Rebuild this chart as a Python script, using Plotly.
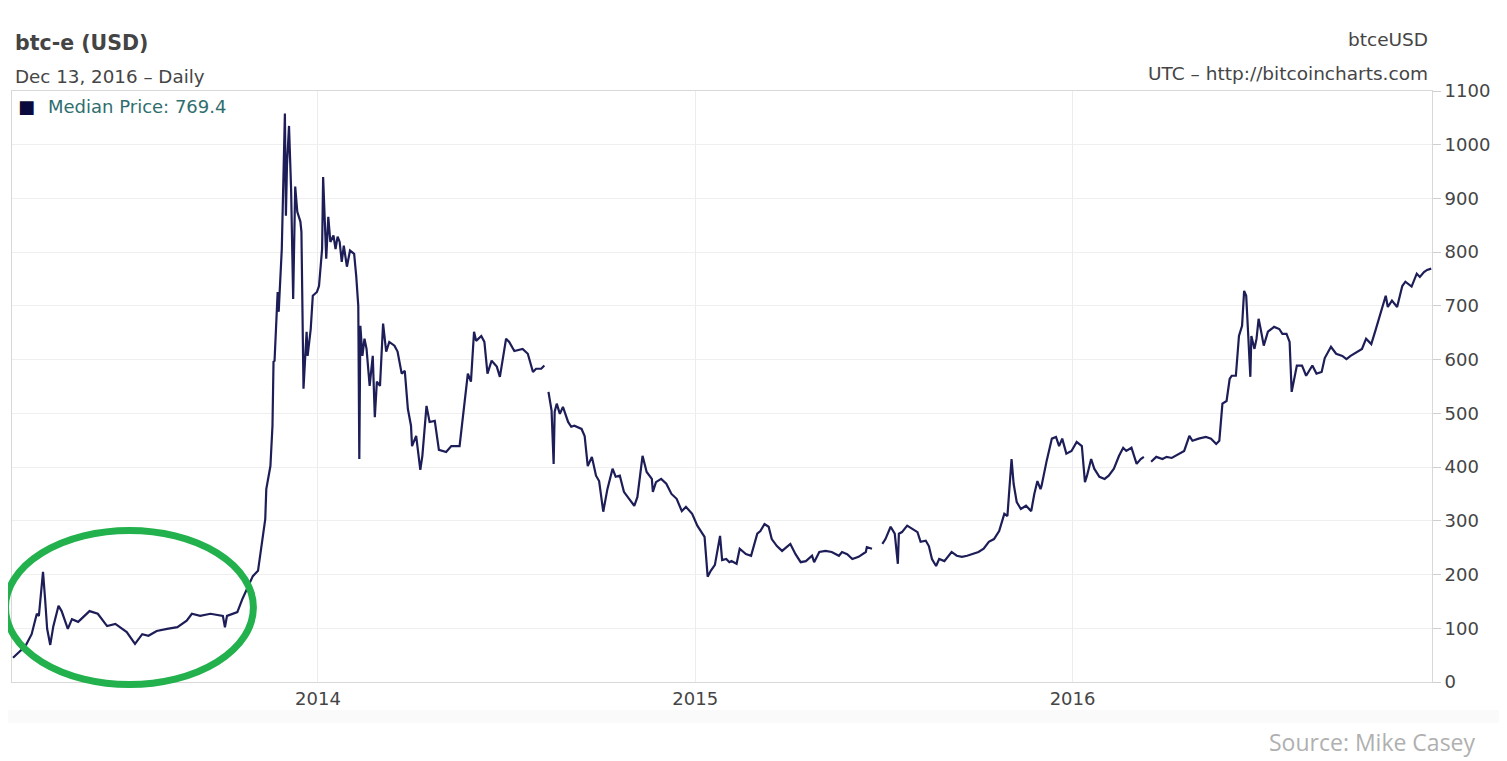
import plotly.graph_objects as go

# ---- data (btc-e median daily price, USD) ----
days_2013 = ["03-12","03-24","03-30","04-04","04-06","04-10","04-12","04-14","04-17","04-20",
             "04-25","04-28","05-04","05-08","05-14","05-25","06-02","06-11","06-19","06-30",
             "07-08","07-15","07-21","07-29","08-08","08-18","08-27","09-01","09-09","09-19",
             "10-01","10-03","10-05","10-15","10-20","10-30","11-04","11-09","11-11","11-12",
             "11-16","11-18","11-19","11-20","11-23","11-24","11-27","11-30","12-01","12-02",
             "12-04","12-06","12-08","12-10","12-12","12-15","12-16","12-18","12-21","12-22",
             "12-25","12-27","12-31"]
price_2013 = [45,67,89,127,123,205,155,99,69,104,
              142,132,99,117,112,132,127,104,108,93,
              71,89,86,95,99,102,114,127,123,127,
              123,102,123,130,155,197,207,279,303,359,
              402,477,596,598,726,689,806,1058,868,961,
              1035,918,713,922,875,857,838,546,652,607,
              657,719,726]

days_2014 = ["01-02","01-05","01-06","01-09","01-11","01-13","01-16","01-18","01-20","01-22",
             "01-24","01-26","01-29","02-01","02-05","02-07","02-09","02-10","02-11","02-13",
             "02-15","02-17","02-20","02-23","02-25","02-27","03-02","03-05","03-08","03-11",
             "03-16","03-19","03-23","03-26","03-29","04-01","04-02","04-06","04-10","04-12",
             "04-16","04-19","04-24","04-28","05-05","05-10","05-18","05-23","05-26","05-29",
             "06-01","06-03","06-08","06-11","06-14","06-18","06-23","06-26","06-28","07-02",
             "07-05","07-10","07-18","07-23","07-28","07-31","08-05","08-08","08-10","08-12",
             "08-15","08-17","08-18","08-20","08-23","08-26","08-31","09-03","09-06","09-13",
             "09-16","09-19","09-23","09-27","09-30","10-04","10-08","10-13","10-16","10-20",
             "10-24","10-29","11-03","11-06","11-11","11-15","11-20","11-21","11-24","11-29",
             "12-04","12-09","12-14","12-19","12-23","12-29"]
price_2014 = [737,806,940,788,866,819,831,806,829,819,
              782,812,773,803,797,756,700,415,663,607,
              639,620,551,607,493,559,551,667,615,633,
              626,615,574,579,508,477,439,458,395,421,
              514,484,486,432,428,439,439,521,574,559,
              652,635,644,633,574,598,587,568,592,639,
              633,616,620,611,577,583,583,589,None,540,
              505,406,503,518,499,512,484,475,477,471,
              458,402,419,384,374,317,359,397,382,384,
              354,341,328,344,421,391,378,354,372,378,
              369,350,341,318,326,313]

days_2015 = ["01-03","01-07","01-10","01-13","01-16","01-20","01-25","01-27","01-31","02-03",
             "02-05","02-10","02-13","02-19","02-24","03-02","03-05","03-09","03-13","03-16",
             "03-21","03-26","04-03","04-08","04-13","04-18","04-24","04-26","05-01","05-07",
             "05-13","05-20","05-23","05-28","06-02","06-08","06-15","06-16","06-21","06-26",
             "07-01","07-04","07-09","07-13","07-16","07-17","07-20","07-25","07-30","08-04",
             "08-07","08-12","08-15","08-18","08-22","08-25","08-30","09-02","09-06","09-11",
             "09-16","09-21","09-26","10-02","10-07","10-12","10-17","10-22","10-27","10-30",
             "11-03","11-05","11-08","11-12","11-17","11-22","11-25","11-28","12-01","12-02",
             "12-07","12-12","12-16","12-19","12-22","12-26","12-31"]
price_2015 = [291,279,270,196,207,218,272,227,229,223,
              225,220,248,238,235,276,281,294,289,266,
              253,244,257,238,223,225,235,223,242,244,
              242,235,242,238,229,233,242,251,248,None,
              257,266,289,276,220,276,279,291,285,279,
              261,263,253,229,216,229,225,233,242,235,
              233,235,238,242,248,261,266,281,313,309,
              415,369,335,322,328,318,350,374,359,365,
              412,453,456,439,453,425,430]

days_2016 = ["01-05","01-10","01-13","01-15","01-19","01-22","01-27","02-01","02-05","02-10",
             "02-15","02-19","02-22","02-27","03-03","03-07","03-10","03-13","03-17","03-22",
             "03-28","04-01","04-06","04-13","04-18","04-23","04-26","05-02","05-09","05-14",
             "05-19","05-22","05-25","05-29","06-01","06-03","06-07","06-10","06-13","06-15",
             "06-17","06-19","06-21","06-22","06-25","06-27","06-29","07-01","07-04","07-08",
             "07-14","07-19","07-22","07-26","07-29","07-31","08-03","08-05","08-10","08-14",
             "08-20","08-24","08-29","09-01","09-07","09-12","09-18","09-22","09-26","10-02",
             "10-07","10-11","10-16","10-20","10-25","10-30","11-01","11-05","11-10","11-15",
             "11-18","11-24","11-29","12-02","12-06","12-09","12-13"]
price_2016 = [447,439,372,384,415,397,382,378,384,397,
              421,436,430,436,406,415,419,None,410,419,
              415,419,417,425,430,458,449,453,456,453,
              443,449,518,523,564,570,570,644,663,728,
              719,644,568,644,620,639,676,657,626,652,
              661,657,648,648,633,540,570,589,589,570,
              589,574,577,603,624,611,607,601,607,614,
              620,639,629,654,689,719,698,710,698,737,
              745,736,760,754,763,767,769.4]

year_ticks = ["2014-01-01", "2015-01-01", "2016-01-01"]
year_labels = ["2014", "2015", "2016"]

dates, prices = [], []
for yr, ds, ps in [("2013", days_2013, price_2013), ("2014", days_2014, price_2014),
                   ("2015", days_2015, price_2015), ("2016", days_2016, price_2016)]:
    dates += [f"{yr}-{d}" for d in ds]
    prices += ps

FONT = "DejaVu Sans"
TXT = "#454545"

fig = go.Figure()
fig.add_trace(go.Scatter(
    x=dates, y=prices, mode="lines", connectgaps=False,
    line=dict(color="#1d1d58", width=2.2), showlegend=False,
    name="Median Price",
))

fig.update_layout(
    width=1491, height=753,
    margin=dict(l=4, r=67, t=83, b=79),
    paper_bgcolor="white", plot_bgcolor="white",
    font=dict(family=FONT, size=18, color=TXT),
    xaxis=dict(
        type="date", range=["2013-03-11", "2016-12-13 18:00"],
        tickmode="array", tickvals=year_ticks, ticktext=year_labels,
        showgrid=True, gridcolor="#ececec", gridwidth=1,
        showline=True, mirror=True, linecolor="#d8d8d8", linewidth=1,
        ticks="", tickfont=dict(size=18, color=TXT, family=FONT),
        zeroline=False,
    ),
    yaxis=dict(
        side="right", range=[0, 1100], dtick=100, tick0=0,
        showgrid=True, gridcolor="#efefef", gridwidth=1,
        showline=True, mirror=True, linecolor="#d8d8d8", linewidth=1,
        ticks="outside", ticklen=8, tickcolor="#cfcfcf",
        tickfont=dict(size=18, color=TXT, family=FONT),
        zeroline=False,
    ),
    shapes=[
        dict(type="rect", xref="paper", yref="paper", x0=-0.0085, x1=1.05,
             y0=-0.0694, y1=-0.0474, fillcolor="#fafafa", line=dict(width=0), layer="below"),
        dict(type="circle", xref="paper", yref="paper", x0=-0.0046, x1=0.170,
             y0=-0.0042, y1=0.2563, line=dict(color="#22b14c", width=7)),
    ],
    annotations=[
        dict(text="<b>btc-e (USD)</b>", xref="paper", yref="paper", x=0.0005, y=1.0812,
             xanchor="left", yanchor="middle", showarrow=False,
             font=dict(size=20.5, color="#444444", family=FONT)),
        dict(text="Dec 13, 2016 \u2013 Daily", xref="paper", yref="paper", x=0.0005, y=1.0237,
             xanchor="left", yanchor="middle", showarrow=False,
             font=dict(size=18.3, color=TXT, family=FONT)),
        dict(text="btceUSD", xref="paper", yref="paper", x=0.9986, y=1.0863,
             xanchor="right", yanchor="middle", showarrow=False,
             font=dict(size=18.5, color=TXT, family=FONT)),
        dict(text="UTC \u2013 http://bitcoincharts.com", xref="paper", yref="paper",
             x=0.9986, y=1.0288, xanchor="right", yanchor="middle", showarrow=False,
             font=dict(size=18.5, color=TXT, family=FONT)),
        dict(text="\u25A0", xref="paper", yref="paper", x=0.0101, y=0.9746,
             xanchor="center", yanchor="middle", showarrow=False,
             font=dict(size=18, color="#0a0a3c", family=FONT)),
        dict(text="Median Price: 769.4", xref="paper", yref="paper", x=0.0239, y=0.9746,
             xanchor="left", yanchor="middle", showarrow=False,
             font=dict(size=18, color="#2f6e6e", family=FONT)),
        dict(text="Source: Mike Casey", xref="paper", yref="paper", x=1.0324, y=-0.1015,
             xanchor="right", yanchor="middle", showarrow=False,
             font=dict(size=23, color="#b0b0b0", family="Open Sans")),
    ],
)

fig.write_html("out.html")
